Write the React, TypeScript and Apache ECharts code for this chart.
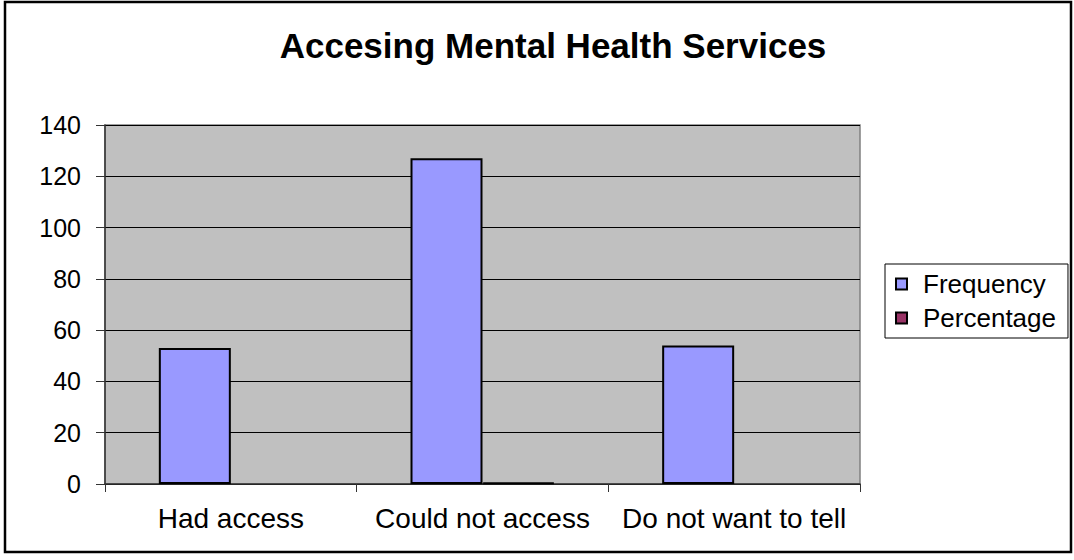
import React, { useEffect, useRef } from "react";
import * as echarts from "echarts";

const categories = ["Had access", "Could not access", "Do not want to tell"];
const frequency = [53, 127, 54];
const percentage: (number | null)[] = [null, 0.5, null];
const yTicks = { min: 0, max: 140, interval: 20 };

export default function App() {
  const ref = useRef<HTMLDivElement>(null);
  useEffect(() => {
    if (!ref.current) return;
    const chart = echarts.init(ref.current, undefined, { renderer: "svg" });
    const font = "'Liberation Sans', Arial, sans-serif";
    chart.setOption({
      animation: false,
      backgroundColor: "#ffffff",
      textStyle: { fontFamily: font },
      title: {
        text: "Accesing Mental Health Services",
        left: 548,
        top: 23,
        textAlign: "center",
        textStyle: { fontFamily: font, fontSize: 35, fontWeight: "bold", color: "#000" },
      },
      graphic: [
        {
          type: "rect",
          shape: { x: 5, y: 2, width: 1066, height: 550 },
          style: { fill: "none", stroke: "#000", lineWidth: 2.5 },
          silent: true,
          z: 100,
        },
      ],
      legend: {
        orient: "vertical",
        left: 885,
        top: 264,
        padding: [7, 12, 7, 10],
        itemGap: 8,
        itemWidth: 11,
        itemHeight: 11,
        icon: "rect",
        borderColor: "#000",
        borderWidth: 1,
        backgroundColor: "#fff",
        textStyle: { fontFamily: font, fontSize: 26, color: "#000", padding: [0, 0, 0, 11] },
        data: ["Frequency", "Percentage"],
      },
      grid: {
        left: 105,
        top: 125,
        right: 214,
        bottom: 76,
        show: true,
        backgroundColor: "#C0C0C0",
        borderColor: "#808080",
        borderWidth: 1.5,
        containLabel: false,
      },
      xAxis: {
        type: "category",
        data: categories,
        axisLine: { lineStyle: { color: "#333", width: 1.5 } },
        axisTick: { show: true, length: 8, lineStyle: { color: "#333" } },
        axisLabel: {
          fontFamily: font,
          fontSize: 28,
          color: "#000",
          margin: 20,
          interval: 0,
          hideOverlap: false,
        },
      },
      yAxis: {
        type: "value",
        min: yTicks.min,
        max: yTicks.max,
        interval: yTicks.interval,
        axisLine: { show: true, lineStyle: { color: "#333", width: 1.5 } },
        axisTick: { show: true, length: 9, inside: false, lineStyle: { color: "#333" } },
        axisLabel: { fontFamily: font, fontSize: 25, color: "#000", margin: 24 },
        splitLine: { show: true, lineStyle: { color: "#000", width: 1 } },
      },
      series: [
        {
          name: "Frequency",
          type: "bar",
          data: frequency,
          barWidth: 72,
          barGap: "0%",
          itemStyle: { color: "#9999FF", borderColor: "#000", borderWidth: 2 },
        },
        {
          name: "Percentage",
          type: "bar",
          data: percentage,
          barWidth: 72,
          barGap: "0%",
          itemStyle: { color: "#993366", borderColor: "#000", borderWidth: 2 },
        },
      ],
    });
    return () => chart.dispose();
  }, []);
  return (
    <div
      ref={ref}
      style={{ position: "fixed", left: 0, top: 0, width: 1074, height: 560 }}
    />
  );
}
